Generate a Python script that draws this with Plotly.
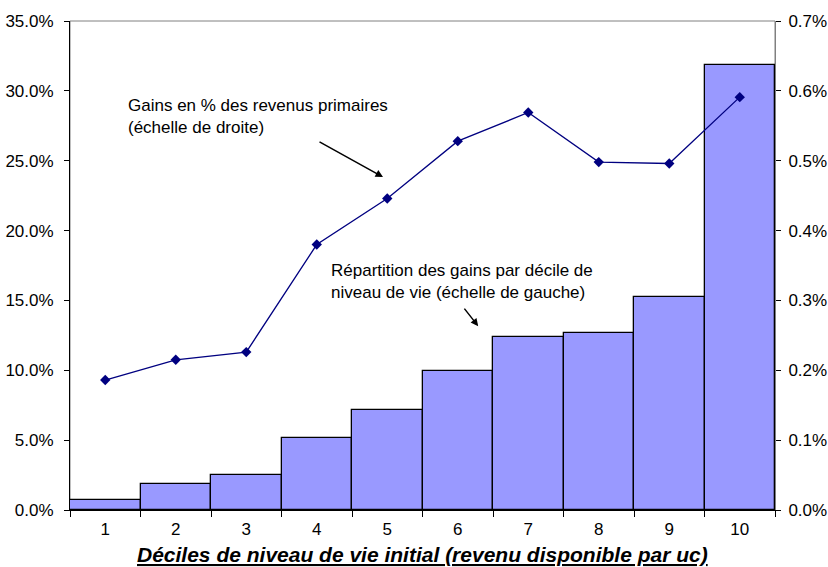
import plotly.graph_objects as go

# ── Data ──────────────────────────────────────────────────────────────────────
DECILES = ["1", "2", "3", "4", "5", "6", "7", "8", "9", "10"]
REPARTITION = [0.0073, 0.0186, 0.0250, 0.0515, 0.0715, 0.0994, 0.1240, 0.1266, 0.1524, 0.3183]
GAINS_PCT = [0.00186, 0.00215, 0.00226, 0.00380, 0.00446, 0.00528, 0.00569, 0.00498, 0.00496, 0.00591]

BAR_COLOR = "#9999FF"
LINE_COLOR = "#000080"
FONT = "Liberation Sans, Arial, sans-serif"

fig = go.Figure()
fig.add_trace(go.Bar(
    x=DECILES, y=REPARTITION,
    marker=dict(color=BAR_COLOR, line=dict(color="black", width=1.3)),
    showlegend=False,
))
fig.add_trace(go.Scatter(
    x=DECILES, y=GAINS_PCT, yaxis="y2",
    mode="lines+markers",
    line=dict(color=LINE_COLOR, width=1.3),
    marker=dict(symbol="diamond", size=8, color=LINE_COLOR),
    showlegend=False,
))

# plot-area border (Excel style, gray)
fig.add_shape(type="rect", xref="paper", yref="paper", x0=0, y0=0, x1=1, y1=1,
              line=dict(color="#808080", width=1), layer="below")

fig.add_annotation(
    text="Gains en % des revenus primaires<br>(échelle de droite)",
    xref="paper", yref="paper", x=0.080, y=0.804,
    xanchor="left", yanchor="middle", align="left", showarrow=False,
    font=dict(size=17, color="black"),
)
fig.add_annotation(
    text="", xref="paper", yref="paper", x=0.444, y=0.681,
    ax=-65, ay=-36, showarrow=True, arrowhead=2, arrowsize=1, arrowwidth=1.5,
    arrowcolor="black",
)
fig.add_annotation(
    text="Répartition des gains par décile de<br>niveau de vie (échelle de gauche)",
    xref="paper", yref="paper", x=0.367, y=0.468,
    xanchor="left", yanchor="middle", align="left", showarrow=False,
    font=dict(size=17, color="black"),
)
fig.add_annotation(
    text="", xref="paper", yref="paper", x=0.579, y=0.376,
    ax=-15, ay=-19, showarrow=True, arrowhead=2, arrowsize=1, arrowwidth=1.5,
    arrowcolor="black",
)
# x-axis title
fig.add_annotation(
    text="<b><i><u>Déciles de niveau de vie initial (revenu disponible par uc)</u></i></b>",
    xref="paper", yref="paper", x=0.5, y=-0.092,
    xanchor="center", yanchor="middle", showarrow=False,
    font=dict(size=21, color="black"),
)

fig.update_layout(
    width=828, height=567,
    paper_bgcolor="white", plot_bgcolor="white",
    font=dict(family=FONT, color="black", size=17),
    margin=dict(l=70, r=53, t=21, b=57, autoexpand=False),
    bargap=0,
    xaxis=dict(
        type="category", tickson="boundaries", range=[-0.5, len(DECILES) - 0.5],
        ticks="outside", ticklen=6, tickcolor="black", ticklabelstandoff=4,
        showline=True, linecolor="black", linewidth=1,
        showgrid=False, automargin=False,
    ),
    yaxis=dict(
        range=[0, 0.35], dtick=0.05, tickformat=".1%",
        ticks="outside", ticklen=5, tickcolor="black", ticklabelstandoff=7,
        showline=True, linecolor="black", linewidth=1,
        showgrid=False, zeroline=False, automargin=False,
    ),
    yaxis2=dict(
        range=[0, 0.007], dtick=0.001, tickformat=".1%",
        overlaying="y", side="right",
        ticks="outside", ticklen=5, tickcolor="black", ticklabelstandoff=4,
        showline=True, linecolor="#808080", linewidth=1,
        showgrid=False, zeroline=False, automargin=False,
    ),
)

# remove the browser's default body margin so the figure sits at the page corner
fig.write_html("out.html", config={"displayModeBar": False},
               post_script="document.body.style.margin='0';")
